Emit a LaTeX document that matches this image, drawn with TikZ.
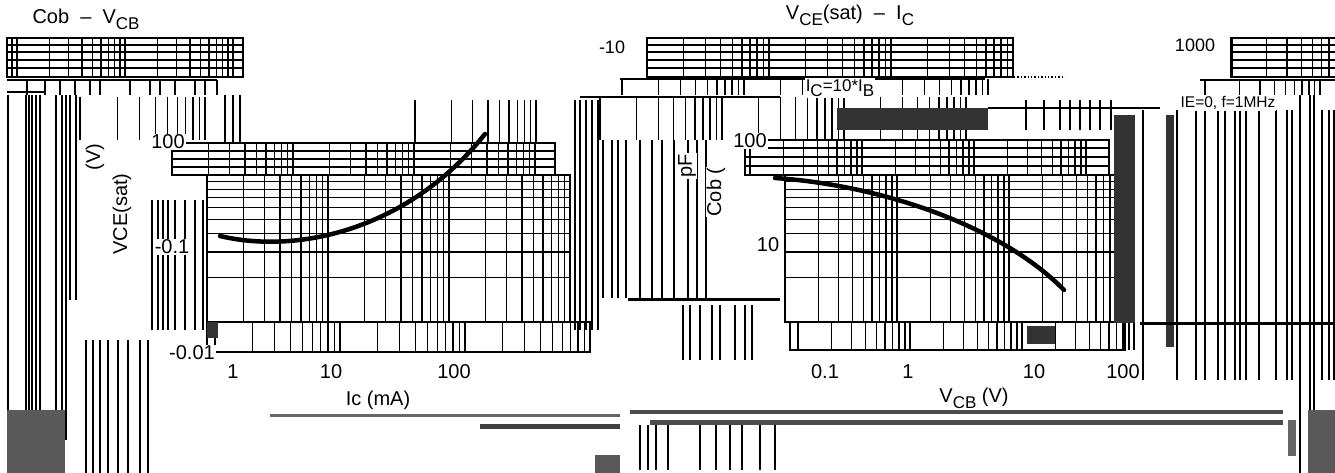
\documentclass[tikz,border=0pt]{standalone}
\usepackage{fontspec}
\setmainfont{Liberation Sans}
\usetikzlibrary{backgrounds}
\tikzstyle{sheet}=[x=1pt, y=-1pt, font=\fontsize{20}{22}\selectfont]
\tikzstyle{gl}=[draw=black, line width=1.4pt]
\tikzstyle{fl}=[draw=black, line width=2pt]
\tikzstyle{bar}=[draw=black, line width=3pt]
\tikzstyle{curve}=[draw=black, line width=4.5pt, line cap=round]
\tikzstyle{dark}=[fill=black!80, draw=none]
\tikzstyle{grey}=[fill=black!65, draw=none]
\tikzstyle{tick}=[inner sep=1pt]
\tikzstyle{lbl}=[inner sep=1pt, fill=white]
\tikzstyle{ylbl}=[inner sep=1pt, fill=white, rotate=90]
\newcommand{\subs}[1]{\raisebox{-0.3em}{\fontsize{17}{18}\selectfont #1}}
% vertical log lines: x0, decade, decades, y1, y2
\newcommand{\logx}[5]{%
  \foreach \d in {1,...,#3} \foreach \k in {1,...,9}
    \draw[gl] ({#1+#2*(\d-1+log10(\k))},#4) -- ({#1+#2*(\d-1+log10(\k))},#5);
  \draw[gl] ({#1+#2*#3},#4) -- ({#1+#2*#3},#5);}
% horizontal log lines: y0 (bottom), decade, decades, x1, x2
\newcommand{\logy}[5]{%
  \foreach \d in {1,...,#3} \foreach \k in {1,...,9}
    \draw[gl] (#4,{#1-#2*(\d-1+log10(\k))}) -- (#5,{#1-#2*(\d-1+log10(\k))});}

\begin{document}
\begin{tikzpicture}[sheet]
		\useasboundingbox (0,0) rectangle (1335,473);
		\fill[white] (0,0) rectangle (1335,473);
		
		%The top grid blocks
		\draw[fl] (7,38) rectangle (243,77);
		\foreach \y in {45,52,60,68} \draw[gl] (7,\y) -- (243,\y);
		\logx{17}{108}{2}{38}{77}
		\draw[gl] (12,38) -- (12,77);
		\draw[fl] (647,38) rectangle (1013,77);
		\foreach \y in {45,52,60,68} \draw[gl] (647,\y) -- (1013,\y);
		\logx{647}{122}{3}{38}{77}
		\draw[fl] (1337,38) -- (1231,38) -- (1231,77) -- (1337,77);
		\foreach \y in {45,52,60,68} \draw[gl] (1231,\y) -- (1335,\y);
		\logx{1232}{115}{1}{38}{77}
		
		%The rows under the blocks
		\draw[gl] (7,80) -- (217,80);
		\draw[gl] (7,92) -- (45,92);
		\foreach \x in {27,45,60,75,90,100,130,150,160,175,195,205,217} \draw[gl] (\x,80) -- (\x,95);
		\draw[gl] (620,79) -- (985,79);
		\logx{622}{122}{3}{79}{95}
		\draw[gl, dotted] (1014,77) -- (1065,77);
		\draw[gl] (1200,80) -- (1335,80);
		\logx{1205}{115}{1}{80}{95}
		\draw[gl] (580,97) -- (780,97);
		\draw[gl] (988,108) -- (1160,108);
		
		%The left stripes
		\foreach \x in {8,26,29,32,36,40,56,62,66} \draw[gl] (\x,95) -- (\x,440);
		\foreach \x in {70,76} \draw[gl] (\x,95) -- (\x,300);
		\foreach \x in {86,93,100,108,118,128,140,148} \draw[gl] (\x,340) -- (\x,473);
		\logx{80}{125}{1}{97}{140}
		\foreach \x in {152,158,163,168,175,185,195,203} \draw[gl] (\x,200) -- (\x,330);
		\foreach \x in {225,233,240} \draw[gl] (\x,95) -- (\x,143);
		\logx{415}{121}{1}{100}{143}
		\fill[grey] (7,410) rectangle (65,473);
		
		%The Vce(sat) - Ic grid
		\draw[fl] (172,143) rectangle (555,175);
		\foreach \y in {151,159,167} \draw[gl] (172,\y) -- (555,\y);
		\logx{172}{121}{3}{143}{175}
		\draw[fl] (207,175) rectangle (570,322);
		\logx{207}{121}{3}{175}{322}
		\logy{322}{147}{1}{207}{570}
		\draw[fl] (207,322) rectangle (590,352);
		\logx{215}{125}{3}{322}{352}
		\fill[dark] (207,322) rectangle (218,338);
		\foreach \x in {575,580,586,592,598} \draw[gl] (\x,100) -- (\x,330);
		
		%The Cob - Vcb grid
		\logx{600}{122}{3}{97}{140}
		\fill[dark] (837,108) rectangle (988,130);
		\draw[fl] (745,140) rectangle (1109,175);
		\foreach \y in {148,157,166} \draw[gl] (745,\y) -- (1109,\y);
		\logx{750}{112}{3}{140}{175}
		\draw[fl] (785,175) rectangle (1121,322);
		\logx{785}{112}{3}{175}{322}
		\logy{322}{147}{1}{785}{1121}
		\draw[fl] (790,322) rectangle (1125,350);
		\logx{798}{112}{3}{322}{350}
		\fill[dark] (1027,326) rectangle (1055,344);
		\foreach \x in {603,612,618,626,640,652,662,674,688,697,706} \draw[gl] (\x,140) -- (\x,298);
		\draw[bar] (628,299) -- (780,299);
		\foreach \x in {683,690,700,712,720,735,745,752} \draw[gl] (\x,305) -- (\x,360);
		
		%The right stripes
		\foreach \x in {1026,1044,1060,1070,1080,1090,1100,1111} \draw[gl] (\x,100) -- (\x,130);
		\fill[dark] (1114,115) rectangle (1135,323);
		\fill[dark] (1166,115) rectangle (1174,347);
		\foreach \x in {1143,1177,1196,1205,1218,1225,1235,1240,1246,1259,1276,1287,1292,1322,1329,1334} \draw[gl] (\x,110) -- (\x,380);
		\foreach \x in {1300,1310,1314} \draw[gl] (\x,95) -- (\x,473);
		\draw[bar] (1140,323) -- (1335,323);
		\fill[grey] (1308,410) rectangle (1335,473);
		
		%The bottom bars
		\fill[black!60] (270,414) rectangle (620,417);
		\fill[black!75] (480,424) rectangle (620,429);
		\fill[black!70] (630,410) rectangle (1283,414);
		\fill[black!70] (650,420) rectangle (1283,425);
		\fill[black!60] (1288,420) rectangle (1296,456);
		\foreach \x in {640,648,656,668,700,716,730,742,760,775} \draw[gl] (\x,425) -- (\x,470);
		\fill[grey] (595,455) rectangle (620,473);
		
		%The curves
		\draw[curve] (220,236) .. controls (300,255) and (410,228) .. (485,134);
		\draw[curve] (775,178) .. controls (880,185) and (1000,225) .. (1064,290);
		
		%The titles
		\node[tick] (ttlcob) at (86,19) {Cob \ – \ V\subs{CB}};
		\node[tick] (ttlsat) at (850,15) {V\subs{CE}(sat) \ – \ I\subs{C}};
		\node[tick] (ymaxsat) at (612,47) {\fontsize{18}{20}\selectfont -10};
		\node[tick] (ymaxcob) at (1195,45) {\fontsize{18}{20}\selectfont 1000};
		\node[lbl] (cond) at (840,88) {\fontsize{17}{18}\selectfont I\subs{C}=10*I\subs{B}};
		\node[lbl] (freq) at (1228,103) {\fontsize{15.5}{17}\selectfont IE=0, f=1MHz};
		
		%The Vce(sat) - Ic axis labels
		\node[lbl] (ysat1) at (168,142) {100};
		\node[lbl] (ysat2) at (172,247) {-0.1};
		\node[lbl] (ysat3) at (192,353) {-0.01};
		\node[ylbl] (ysat) at (122,214) {VCE(sat)};
		\node[ylbl] (ysatu) at (95,157) {(V)};
		\node[lbl] (xsat1) at (233,372) {1};
		\node[lbl] (xsat2) at (331,372) {10};
		\node[lbl] (xsat3) at (454,372) {100};
		\node[lbl] (xsat) at (378,400) {Ic (mA)};
		
		%The Cob - Vcb axis labels
		\node[lbl] (ycob1) at (750,141) {100};
		\node[lbl] (ycob2) at (768,245) {10};
		\node[ylbl] (ycob) at (716,192) {Cob (};
		\node[ylbl] (ycobu) at (687,166) {pF};
		\node[lbl] (xcob1) at (825,372) {0.1};
		\node[lbl] (xcob2) at (908,372) {1};
		\node[lbl] (xcob3) at (1034,372) {10};
		\node[lbl] (xcob4) at (1123,372) {100};
		\node[lbl] (xcob) at (974,398) {V\subs{CB} (V)};
\end{tikzpicture}
\end{document}
